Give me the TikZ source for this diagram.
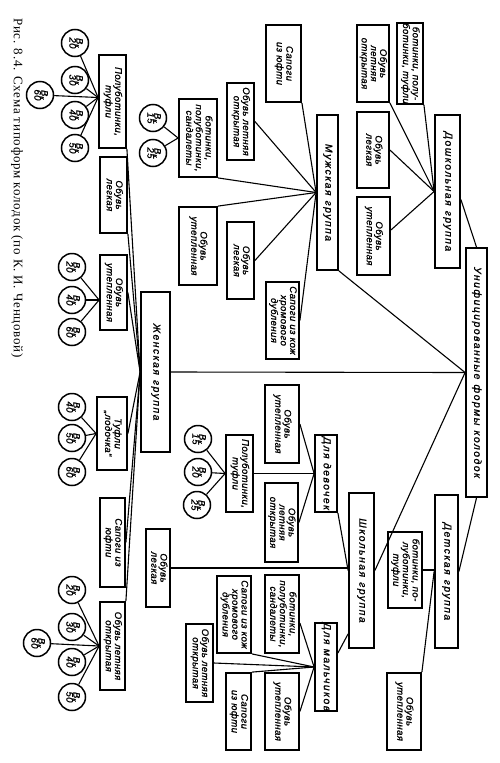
\documentclass[tikz,border=0pt]{standalone}
\usepackage{fontspec}
\newfontfamily\dr{Liberation Sans}[LetterSpace=5,FakeBold=1.2]
\newfontfamily\grpfont{Liberation Sans}[LetterSpace=15,FakeBold=1.2]
\newfontfamily\capfont{Liberation Serif}[LetterSpace=6]
\tikzset{
  bx/.style={draw,line width=1.8pt,inner sep=0pt,font=\dr\itshape\fontsize{9.5}{11}\selectfont},
  grp/.style={bx,font=\grpfont\itshape\fontsize{10.3}{11}\selectfont},
  cc/.style={draw,circle,line width=1.5pt,minimum size=27pt,inner sep=0pt,font=\dr\itshape\fontsize{9.5}{9}\selectfont},
  ln/.style={line width=1.1pt},
}
\renewcommand{\arraystretch}{0.84}
\newcommand\bx[7][bx]{%
  \node[#1,minimum width={(#5-#3)*1pt},minimum height={(#6-#4)*1pt}] (#2) at ({(#3+#5)/2},{(#4+#6)/2}) {\rotatebox{-90}{\begin{tabular}{@{}c@{}}#7\end{tabular}}};}
\newcommand\cc[3]{\node[cc] (#1) at (#2) {\rotatebox{-90}{\begin{tabular}{@{}c@{}}В\textsubscript{к}\\[-2pt]#3\end{tabular}}};}
\begin{document}
\begin{tikzpicture}[x=1pt,y=-1pt]
\useasboundingbox (0,0) rectangle (500,763);
% caption
\node[font=\capfont\fontsize{13}{13}\selectfont,inner sep=0pt] (cap) at (17,188) {\rotatebox{-90}{Рис. 8.4. Схема типоформ колодок (по К. И. Ченцовой)}};
% root and groups
\bx[grp]{root}{466}{248}{487}{497}{Унифицированные\enspace формы\enspace колодок}
\bx[grp]{dosh}{435}{115}{460}{268}{Дошкольная\enspace группа}
\bx[grp]{muzh}{317}{115}{338}{270}{Мужская\enspace группа}
\bx[grp]{zhen}{141}{292}{170}{452}{Женская\enspace группа}
\bx[grp]{det}{435}{495}{458}{648}{Детская\enspace группа}
\bx[grp]{shk}{349}{493}{374}{648}{Школьная\enspace группа}
\bx[grp]{dev}{315}{435}{337}{512}{Для девочек}
\bx[grp]{mal}{315}{624}{337}{710}{Для мальчиков}
% preschool
\bx{d1}{397}{25}{423}{102}{ботинки, полу-\\ботинки, туфли}
\bx{d2}{357}{25}{389}{102}{Обувь\\летняя\\открытая}
\bx{d3}{357}{112}{389}{188}{Обувь\\легкая}
\bx{d4}{357}{197}{390}{275}{Обувь\\утепленная}
% men
\bx{m1}{266}{25}{301}{102}{Сапоги\\из юфти}
\bx{m2}{227}{83}{254}{160}{Обувь летняя\\открытая}
\bx{m3}{179}{99}{217}{177}{ботинки,\\полуботинки,\\сандалеты}
\bx{m4}{179}{207}{217}{285}{Обувь\\утепленная}
\bx{m5}{227}{222}{254}{299}{Обувь\\легкая}
\bx{m6}{266}{282}{299}{359}{Сапоги из кож\\хромового\\дубления}
\cc{m3a}{153,118}{15}
\cc{m3b}{153,153}{25}
% women
\bx{z1}{99}{55}{126}{148}{Полуботинки,\\туфли}
\bx{z2}{100}{157}{127}{233}{Обувь\\легкая}
\bx{z3}{100}{255}{127}{330}{Обувь\\утепленная}
\bx{z4}{97}{397}{127}{470}{Туфли\\„лодочка“}
\bx{z5}{100}{498}{125}{587}{Сапоги из\\юфти}
\bx{z6}{100}{602}{125}{690}{Обувь летняя\\открытая}
\cc{z1a}{75,43}{20}
\cc{z1b}{75,80}{30}
\cc{z1c}{75,115}{40}
\cc{z1d}{75,148}{50}
\cc{z1e}{40,95}{60}
\cc{z3a}{72,267}{20}
\cc{z3b}{72,300}{40}
\cc{z3c}{72,332}{60}
\cc{z4a}{72,407}{40}
\cc{z4b}{72,438}{50}
\cc{z4c}{72,472}{60}
\cc{z6a}{72,590}{20}
\cc{z6b}{72,627}{30}
\cc{z6c}{72,662}{40}
\cc{z6d}{72,697}{50}
\cc{z6e}{37,643}{60}
% children's
\bx{de1}{388}{532}{422}{608}{ботинки, по-\\луботинки,\\туфли}
\bx{de2}{387}{673}{421}{750}{Обувь\\утепленная}
% school
\bx{s1}{146}{529}{170}{607}{Обувь\\легкая}
\bx{dv1}{265}{385}{299}{463}{Обувь\\утепленная}
\bx{dv2}{265}{483}{298}{562}{Обувь\\летняя\\открытая}
\bx{dv3}{226}{435}{253}{512}{Полуботинки,\\туфли}
\cc{dv3a}{198,439}{15}
\cc{dv3b}{198,472}{20}
\cc{dv3c}{197,505}{25}
\bx{ml1}{265}{575}{299}{653}{ботинки,\\полуботинки,\\сандалеты}
\bx{ml2}{265}{673}{299}{750}{Обувь\\утепленная}
\bx{ml3}{217}{576}{251}{653}{Сапоги из кож\\хромового\\дубления}
\bx{ml4}{226}{673}{251}{750}{Сапоги\\из юфти}
\bx{ml5}{186}{624}{213}{702}{Обувь летняя\\открытая}
% connectors: root
\draw[ln] (root.north) -- ([yshift=-8pt]dosh.east);
\draw[ln] (root.west) -- (muzh.south east);
\draw[ln] (root.west) -- (zhen.east);
\draw[ln] (root.west) -- (shk.east);
\draw[ln] (root.south) -- (det.east);
% preschool
\draw[ln] (dosh.west) -- (d1.south east);
\draw[ln] (dosh.west) -- (d2.south east);
\draw[ln] (dosh.west) -- (d3.east);
\draw[ln] (dosh.west) -- ([yshift=6pt]d4.east);
% men
\draw[ln] (muzh.west) -- (m1.south east);
\draw[ln] (muzh.west) -- (m2.east);
\draw[ln] (muzh.west) -- (m3.south east);
\draw[ln] (muzh.west) -- (m4.north east);
\draw[ln] (muzh.west) -- (m5.east);
\draw[ln] (muzh.west) -- (m6.east);
\draw[ln] (m3a) -- (m3.west);
\draw[ln] (m3b) -- (m3.west);
% women
\draw[ln] (zhen.west) -- (z1.south east);
\draw[ln] (zhen.west) -- (z2.south east);
\draw[ln] (zhen.west) -- (z3.east);
\draw[ln] (zhen.west) -- (z4.east);
\draw[ln] (zhen.west) -- (z5.east);
\draw[ln] (zhen.west) -- (z6.north east);
\coordinate (z1w) at ([yshift=4pt]z1.west);
\foreach \c in {z1a,z1b,z1c,z1d,z1e} \draw[ln] (\c) -- (z1w);
\coordinate (z3w) at ([yshift=-7.5pt]z3.west);
\foreach \c in {z3a,z3b,z3c} \draw[ln] (\c) -- (z3w);
\foreach \c in {z4a,z4b,z4c} \draw[ln] (\c) -- (z4.west);
\foreach \c in {z6a,z6b,z6c,z6d,z6e} \draw[ln] (\c) -- (z6.west);
% children's
\draw[ln] (de1.east) -- (de1.east -| det.west);
\draw[ln] (det.west) -- (de2.north east);
% school
\draw[ln] (s1.east) -- (s1.east -| shk.west);
\draw[ln] (shk.west) -- (dev.south east);
\draw[ln] ([yshift=15pt]shk.south west) -- ([yshift=14pt]mal.east);
\draw[ln] (dev.west) -- (dv1.east);
\draw[ln] (dev.west) -- (dv2.east);
\draw[ln] (dv3.east) -- (dv3.east -| dev.west);
\foreach \c in {dv3a,dv3b,dv3c} \draw[ln] (\c) -- (dv3.west);
\draw[ln] (mal.west) -- ([yshift=-9pt]ml1.east);
\draw[ln] (mal.west) -- (ml2.east);
\draw[ln] (mal.west) -- (ml3.south east);
\draw[ln] (mal.west) -- (ml4.north east);
\draw[ln] (mal.west) -- (ml5.east);
\end{tikzpicture}
\end{document}
